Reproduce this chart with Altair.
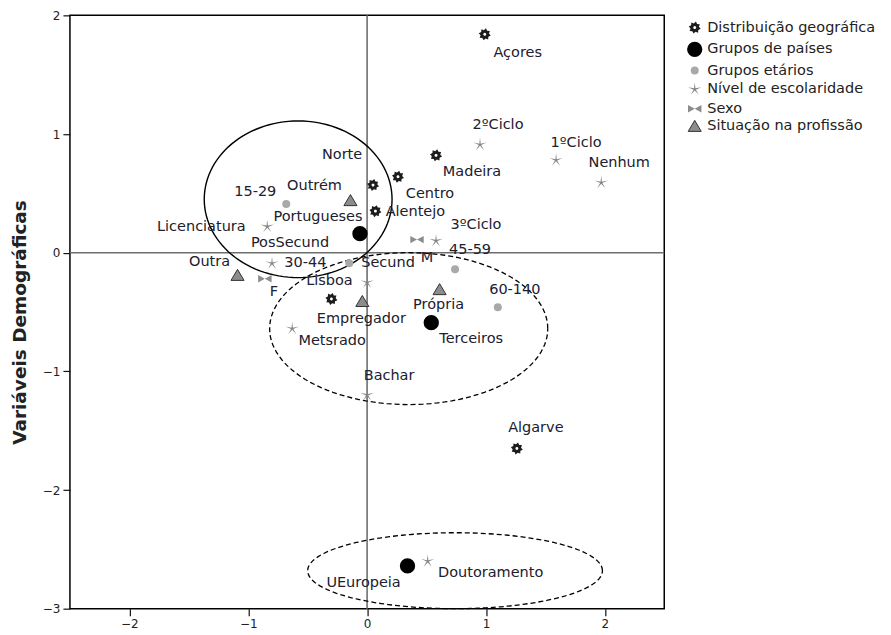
import math
import altair as alt
import pandas as pd

# ---------------- data ----------------
GROUPS = ["Distribuição geográfica", "Grupos de países", "Grupos etários",
          "Nível de escolaridade", "Sexo", "Situação na profissão"]

DIST_LABELS = ["Açores", "Madeira", "Centro", "Norte", "Alentejo", "Lisboa", "Algarve"]
DIST_X = [0.99, 0.58, 0.26, 0.05, 0.07, -0.30, 1.26]
DIST_Y = [1.84, 0.82, 0.64, 0.57, 0.35, -0.39, -1.65]

PAIS_LABELS = ["Portugueses", "Terceiros", "UEuropeia"]
PAIS_X = [-0.06, 0.54, 0.34]
PAIS_Y = [0.16, -0.59, -2.64]

ETAR_LABELS = ["15-29", "30-44", "45-59", "60-140"]
ETAR_X = [-0.68, -0.15, 0.74, 1.10]
ETAR_Y = [0.41, -0.09, -0.14, -0.46]

NIVEL_LABELS = ["1ºCiclo", "2ºCiclo", "3ºCiclo", "Bachar", "Doutoramento",
                "Licenciatura", "Metsrado", "Nenhum", "PosSecund", "Secund"]
NIVEL_X = [1.59, 0.95, 0.58, 0.00, 0.51, -0.84, -0.63, 1.97, -0.80, 0.00]
NIVEL_Y = [0.78, 0.91, 0.10, -1.20, -2.60, 0.22, -0.64, 0.59, -0.09, -0.25]

SEXO_LABELS = ["M", "F"]
SEXO_X = [0.42, -0.86]
SEXO_Y = [0.11, -0.22]

SIT_LABELS = ["Outrém", "Outra", "Empregador", "Própria"]
SIT_X = [-0.14, -1.09, -0.04, 0.61]
SIT_Y = [0.44, -0.19, -0.41, -0.31]

X_TICKS = [-2, -1, 0, 1, 2]
Y_TICKS = [-3, -2, -1, 0, 1, 2]
Y_TITLE = "Variáveis Demográficas"

# ---------------- label placement (pixel offsets of label centre) ----------------
LABEL_OFFSETS = {
    "Açores": (33, 19), "Madeira": (36, 17), "Centro": (32, 17), "Norte": (-31, -30),
    "Alentejo": (40, 1), "Lisboa": (-2, -18), "Algarve": (19, -20),
    "Portugueses": (-42, -17), "Terceiros": (40, 16), "UEuropeia": (-44, 17),
    "15-29": (-31, -12), "30-44": (-44, 0), "45-59": (15, -19), "60-140": (17, -17),
    "1ºCiclo": (20, -17), "2ºCiclo": (18, -20), "3ºCiclo": (40, -16), "Bachar": (22, -19),
    "Doutoramento": (63, 12), "Licenciatura": (-66, 0), "Metsrado": (40, 12),
    "Nenhum": (18, -20), "PosSecund": (18, -20), "Secund": (21, -19),
    "M": (10, 18), "F": (9, 13),
    "Outrém": (-36, -14), "Outra": (-28, -13), "Empregador": (-1, 18), "Própria": (-1, 16),
}

# ---------------- build table ----------------
rows = []
for g, labs, xs, ys in [
    (GROUPS[0], DIST_LABELS, DIST_X, DIST_Y),
    (GROUPS[1], PAIS_LABELS, PAIS_X, PAIS_Y),
    (GROUPS[2], ETAR_LABELS, ETAR_X, ETAR_Y),
    (GROUPS[3], NIVEL_LABELS, NIVEL_X, NIVEL_Y),
    (GROUPS[4], SEXO_LABELS, SEXO_X, SEXO_Y),
    (GROUPS[5], SIT_LABELS, SIT_X, SIT_Y),
]:
    for lab, x, y in zip(labs, xs, ys):
        dx, dy = LABEL_OFFSETS[lab]
        rows.append({"grupo": g, "label": lab, "x": x, "y": y, "dx": dx, "dy": dy})
df = pd.DataFrame(rows)

# ---------------- geometry for symbols and ellipses ----------------
W, H = 595, 594
X_DOM, Y_DOM = [-2.5, 2.5], [-3, 2]
PX_X = W / (X_DOM[1] - X_DOM[0])
PX_Y = H / (Y_DOM[1] - Y_DOM[0])


def star_path(n, r_out, r_in, rot=-90.0):
    pts = []
    for k in range(2 * n):
        a = math.radians(rot + k * 180.0 / n)
        r = r_out if k % 2 == 0 else r_in
        pts.append(f"{r * math.cos(a):.3f},{r * math.sin(a):.3f}")
    return "M" + "L".join(pts) + "Z"


def ring_rev(r, n=16):
    pts = []
    for k in range(n):
        a = -2 * math.pi * k / n
        pts.append(f"{r * math.cos(a):.3f},{r * math.sin(a):.3f}")
    return "M" + "L".join(pts) + "Z"


SUN = star_path(8, 1.0, 0.7, rot=-90 + 11.25) + ring_rev(0.24)
ASTER = star_path(5, 1.0, 0.17)
BOWTIE = ("M-1,-0.55L0,0L-1,0.55Z" "M1,-0.55L0,0L1,0.55Z")
TRI = "M0,-0.85L0.95,0.75L-0.95,0.75Z"

SHAPES = [SUN, "circle", "circle", ASTER, BOWTIE, TRI]
FILLS = ["#1c1c1c", "#000000", "#a9a9a9", "#858585", "#8c8c8c", "#8c8c8c"]
STROKES = ["transparent", "transparent", "transparent", "transparent", "transparent", "#333333"]
SIZES = [150, 235, 64, 190, 180, 190]

ELLIPSES = [  # (id, cx, cy, rx, ry, dashed)
    ("e1", -0.58, 0.45, 0.79, 0.66, False),
    ("e2", 0.35, -0.64, 1.17, 0.64, True),
    ("e3", 0.74, -2.68, 1.24, 0.32, True),
]
erows = []
for eid, cx, cy, rx, ry, dashed in ELLIPSES:
    for k in range(121):
        t = 2 * math.pi * k / 120
        erows.append({"eid": eid, "k": k, "ex": cx + rx * math.cos(t),
                      "ey": cy + ry * math.sin(t), "dashed": dashed})
edf = pd.DataFrame(erows)

# ---------------- scales / axes ----------------
xscale = alt.Scale(domain=X_DOM, nice=False, zero=False)
yscale = alt.Scale(domain=Y_DOM, nice=False, zero=False)
xaxis = alt.Axis(values=X_TICKS, title=None, grid=False, domain=False, tickSize=7,
                 tickColor="#111", tickWidth=1.2, labelFont="DejaVu Sans", labelFontSize=12,
                 labelColor="#222", labelPadding=3)
yaxis = alt.Axis(values=Y_TICKS, title=Y_TITLE, grid=False, domain=False, tickSize=7,
                 tickColor="#111", tickWidth=1.2, labelFont="DejaVu Sans", labelFontSize=12,
                 labelColor="#222", labelPadding=3,
                 titleFont="DejaVu Sans", titleFontSize=18.5, titleFontWeight="bold",
                 titleColor="#222", titleAngle=270, titleBaseline="alphabetic",
                 titleX=-44, titleY=307)

leg = alt.Legend(title=None, orient="none", legendX=617, legendY=5, padding=0,
                 labelFont="DejaVu Sans", labelFontSize=14.5, labelColor="#222",
                 labelLimit=400, rowPadding=2.5, labelOffset=4, symbolOpacity=1,
                 symbolStrokeWidth=1)

zero_v = alt.Chart().mark_rule(color="#6e6e6e", strokeWidth=1.6).encode(
    x=alt.X(datum=0, scale=xscale, axis=xaxis))
zero_h = alt.Chart().mark_rule(color="#6e6e6e", strokeWidth=1.6).encode(
    y=alt.Y(datum=0, scale=yscale, axis=yaxis))

ell_solid = alt.Chart(edf[~edf.dashed]).mark_line(color="#000", strokeWidth=1.4).encode(
    x=alt.X("ex:Q", scale=xscale, axis=xaxis),
    y=alt.Y("ey:Q", scale=yscale, axis=yaxis),
    detail="eid:N", order="k:Q")
ell_dash = alt.Chart(edf[edf.dashed]).mark_line(color="#000", strokeWidth=1.3,
                                                strokeDash=[5, 3]).encode(
    x=alt.X("ex:Q", scale=xscale, axis=xaxis),
    y=alt.Y("ey:Q", scale=yscale, axis=yaxis),
    detail="eid:N", order="k:Q")

points = alt.Chart(df).mark_point(filled=True, opacity=1, strokeWidth=1).encode(
    x=alt.X("x:Q", scale=xscale, axis=xaxis),
    y=alt.Y("y:Q", scale=yscale, axis=yaxis),
    color=alt.Color("grupo:N", scale=alt.Scale(domain=GROUPS, range=FILLS), legend=leg),
    shape=alt.Shape("grupo:N", scale=alt.Scale(domain=GROUPS, range=SHAPES), legend=leg),
    size=alt.Size("grupo:N", scale=alt.Scale(type="ordinal", domain=GROUPS, range=SIZES),
                  legend=leg),
    stroke=alt.Stroke("grupo:N", scale=alt.Scale(domain=GROUPS, range=STROKES), legend=leg),
)

labels = alt.Chart(df).transform_calculate(
    lx=f"datum.x + datum.dx / {PX_X}",
    ly=f"datum.y - datum.dy / {PX_Y}",
).mark_text(font="DejaVu Sans", fontSize=14.5, color="#20202e", align="center",
            baseline="middle").encode(
    x=alt.X("lx:Q", scale=xscale, axis=xaxis),
    y=alt.Y("ly:Q", scale=yscale, axis=yaxis),
    text="label:N",
)

chart = alt.layer(zero_v, zero_h, ell_solid, ell_dash, points, labels).properties(
    width=W, height=H,
    padding={"left": 62, "top": 7, "right": 219, "bottom": 24},
    autosize=alt.AutoSizeParams(type="none"),
).configure_view(stroke="#000", strokeWidth=1.5)

chart.save("out.html", embed_options={"renderer": "svg", "actions": False})
